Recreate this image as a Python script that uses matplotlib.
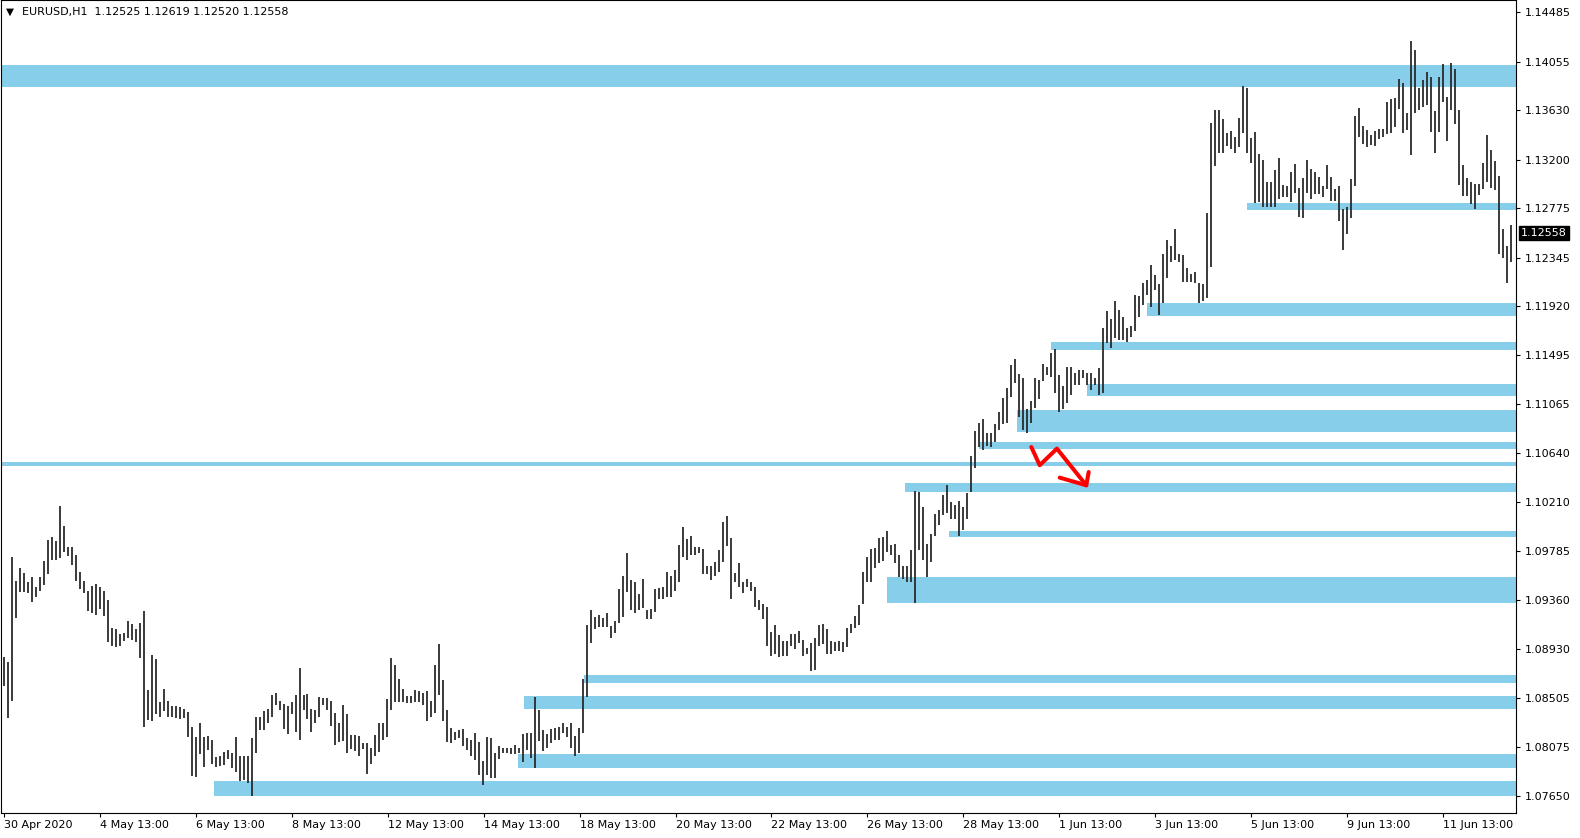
import matplotlib
matplotlib.use("Agg")
import matplotlib.pyplot as plt
import numpy as np

# EURUSD H1, one entry per two hourly bars (high / low)
symbol = "EURUSD,H1"
last_ohlc = ["1.12525", "1.12619", "1.12520", "1.12558"]
last_price = 1.12558

highs = [
    1.0886, 1.0882, 1.0973, 1.0952, 1.0964, 1.0959, 1.0951, 1.0956, 1.0947, 1.0956,
    1.0970, 1.0988, 1.0991, 1.0987, 1.1018, 1.1000, 1.0982, 1.0982, 1.0975, 1.0960,
    1.0952, 1.0944, 1.0948, 1.0950, 1.0947, 1.0944, 1.0936, 1.0911, 1.0910, 1.0906,
    1.0907, 1.0917, 1.0915, 1.0910, 1.0916, 1.0926, 1.0857, 1.0888, 1.0884, 1.0847,
    1.0858, 1.0848, 1.0843, 1.0843, 1.0842, 1.0841, 1.0838, 1.0825, 1.0816, 1.0828,
    1.0816, 1.0817, 1.0814, 1.0799, 1.0800, 1.0803, 1.0805, 1.0802, 1.0816, 1.0800,
    1.0800, 1.0800, 1.0815, 1.0834, 1.0834, 1.0839, 1.0841, 1.0853, 1.0855, 1.0848,
    1.0845, 1.0843, 1.0847, 1.0853, 1.0876, 1.0853, 1.0854, 1.0841, 1.0840, 1.0851,
    1.0850, 1.0850, 1.0848, 1.0837, 1.0828, 1.0844, 1.0836, 1.0818, 1.0818, 1.0817,
    1.0811, 1.0811, 1.0807, 1.0818, 1.0828, 1.0828, 1.0849, 1.0885, 1.0879, 1.0867,
    1.0858, 1.0852, 1.0852, 1.0857, 1.0856, 1.0855, 1.0856, 1.0848, 1.0879, 1.0897,
    1.0866, 1.0840, 1.0824, 1.0821, 1.0822, 1.0823, 1.0815, 1.0814, 1.0820, 1.0812,
    1.0795, 1.0816, 1.0815, 1.0802, 1.0808, 1.0807, 1.0807, 1.0807, 1.0809, 1.0807,
    1.0819, 1.0820, 1.0820, 1.0851, 1.0840, 1.0822, 1.0819, 1.0823, 1.0824, 1.0825,
    1.0828, 1.0825, 1.0828, 1.0817, 1.0824, 1.0867, 1.0914, 1.0927, 1.0921, 1.0923,
    1.0920, 1.0924, 1.0913, 1.0917, 1.0945, 1.0957, 1.0977, 1.0953, 1.0951, 1.0941,
    1.0954, 1.0927, 1.0928, 1.0945, 1.0946, 1.0947, 1.0960, 1.0957, 1.0962, 1.0984,
    1.0999, 1.0989, 1.0992, 1.0982, 1.0982, 1.0980, 1.0965, 1.0965, 1.0969, 1.0979,
    1.1004, 1.1009, 1.0990, 1.0959, 1.0968, 1.0951, 1.0954, 1.0951, 1.0947, 1.0936,
    1.0932, 1.0930, 1.0908, 1.0914, 1.0905, 1.0900, 1.0900, 1.0906, 1.0906, 1.0909,
    1.0901, 1.0894, 1.0898, 1.0903, 1.0914, 1.0915, 1.0910, 1.0900, 1.0899, 1.0900,
    1.0899, 1.0911, 1.0915, 1.0922, 1.0931, 1.0960, 1.0973, 1.0980, 1.0981, 1.0990,
    1.0991, 1.0996, 1.0984, 1.0985, 1.0975, 1.0965, 1.0965, 1.0979, 1.1031, 1.1030,
    1.1017, 1.0985, 1.0993, 1.1011, 1.1014, 1.1027, 1.1036, 1.1021, 1.1019, 1.1022,
    1.1017, 1.1029, 1.1061, 1.1083, 1.1090, 1.1094, 1.1081, 1.1081, 1.1089, 1.1100,
    1.1112, 1.1121, 1.1141, 1.1146, 1.1133, 1.1129, 1.1102, 1.1109, 1.1129, 1.1128,
    1.1142, 1.1139, 1.1151, 1.1155, 1.1132, 1.1122, 1.1139, 1.1139, 1.1134, 1.1136,
    1.1136, 1.1134, 1.1134, 1.1129, 1.1138, 1.1173, 1.1188, 1.1181, 1.1197, 1.1189,
    1.1183, 1.1173, 1.1175, 1.1202, 1.1201, 1.1212, 1.1215, 1.1228, 1.1219, 1.1211,
    1.1238, 1.1250, 1.1245, 1.1259, 1.1238, 1.1237, 1.1225, 1.1220, 1.1222, 1.1212,
    1.1211, 1.1273, 1.1352, 1.1363, 1.1363, 1.1355, 1.1343, 1.1345, 1.1340, 1.1356,
    1.1384, 1.1382, 1.1339, 1.1344, 1.1325, 1.1320, 1.1300, 1.1300, 1.1311, 1.1321,
    1.1298, 1.1297, 1.1309, 1.1316, 1.1295, 1.1304, 1.1320, 1.1312, 1.1309, 1.1305,
    1.1297, 1.1315, 1.1305, 1.1294, 1.1297, 1.1277, 1.1279, 1.1303, 1.1358, 1.1365,
    1.1349, 1.1346, 1.1341, 1.1345, 1.1347, 1.1347, 1.1370, 1.1373, 1.1374, 1.1390,
    1.1387, 1.1361, 1.1423, 1.1416, 1.1382, 1.1389, 1.1396, 1.1392, 1.1362, 1.1392,
    1.1403, 1.1375, 1.1404, 1.1399, 1.1363, 1.1315, 1.1304, 1.1300, 1.1299, 1.1299,
    1.1317, 1.1341, 1.1328, 1.1319, 1.1306, 1.1259, 1.1245, 1.1263,
]

lows = [
    1.0861, 1.0833, 1.0848, 1.0920, 1.0943, 1.0943, 1.0942, 1.0934, 1.0938, 1.0944,
    1.0949, 1.0958, 1.0971, 1.0971, 1.0972, 1.0978, 1.0974, 1.0966, 1.0952, 1.0945,
    1.0942, 1.0926, 1.0924, 1.0923, 1.0928, 1.0922, 1.0899, 1.0896, 1.0895, 1.0896,
    1.0900, 1.0903, 1.0901, 1.0899, 1.0885, 1.0825, 1.0831, 1.0830, 1.0836, 1.0834,
    1.0839, 1.0834, 1.0834, 1.0833, 1.0832, 1.0833, 1.0816, 1.0782, 1.0781, 1.0801,
    1.0790, 1.0805, 1.0793, 1.0790, 1.0791, 1.0792, 1.0797, 1.0789, 1.0786, 1.0778,
    1.0779, 1.0776, 1.0765, 1.0802, 1.0822, 1.0822, 1.0828, 1.0834, 1.0844, 1.0840,
    1.0823, 1.0819, 1.0836, 1.0821, 1.0814, 1.0840, 1.0832, 1.0821, 1.0828, 1.0834,
    1.0844, 1.0840, 1.0826, 1.0809, 1.0812, 1.0813, 1.0802, 1.0806, 1.0804, 1.0800,
    1.0806, 1.0784, 1.0793, 1.0800, 1.0803, 1.0814, 1.0816, 1.0840, 1.0847, 1.0847,
    1.0847, 1.0846, 1.0846, 1.0847, 1.0847, 1.0844, 1.0830, 1.0834, 1.0837, 1.0853,
    1.0830, 1.0812, 1.0811, 1.0814, 1.0815, 1.0808, 1.0805, 1.0800, 1.0796, 1.0783,
    1.0774, 1.0783, 1.0780, 1.0780, 1.0797, 1.0802, 1.0802, 1.0801, 1.0801, 1.0802,
    1.0794, 1.0805, 1.0798, 1.0789, 1.0813, 1.0804, 1.0807, 1.0811, 1.0814, 1.0814,
    1.0820, 1.0816, 1.0807, 1.0800, 1.0802, 1.0820, 1.0851, 1.0898, 1.0910, 1.0912,
    1.0912, 1.0912, 1.0903, 1.0907, 1.0916, 1.0921, 1.0943, 1.0927, 1.0924, 1.0927,
    1.0929, 1.0919, 1.0919, 1.0925, 1.0937, 1.0937, 1.0938, 1.0938, 1.0944, 1.0951,
    1.0973, 1.0971, 1.0975, 1.0975, 1.0977, 1.0958, 1.0958, 1.0953, 1.0957, 1.0960,
    1.0969, 1.0983, 1.0937, 1.0951, 1.0947, 1.0942, 1.0947, 1.0944, 1.0930, 1.0927,
    1.0919, 1.0896, 1.0887, 1.0889, 1.0886, 1.0887, 1.0887, 1.0896, 1.0893, 1.0898,
    1.0887, 1.0889, 1.0874, 1.0875, 1.0896, 1.0897, 1.0889, 1.0889, 1.0891, 1.0891,
    1.0890, 1.0895, 1.0907, 1.0911, 1.0914, 1.0932, 1.0951, 1.0951, 1.0964, 1.0968,
    1.0970, 1.0978, 1.0975, 1.0968, 1.0956, 1.0954, 1.0951, 1.0951, 1.0933, 1.0979,
    1.0971, 1.0956, 1.0969, 1.0992, 1.1001, 1.1010, 1.1012, 1.1006, 1.1006, 1.0992,
    1.0997, 1.1006, 1.1030, 1.1051, 1.1069, 1.1067, 1.1070, 1.1069, 1.1074, 1.1084,
    1.1089, 1.1090, 1.1113, 1.1125, 1.1095, 1.1084, 1.1081, 1.1090, 1.1103, 1.1111,
    1.1127, 1.1132, 1.1130, 1.1116, 1.1100, 1.1102, 1.1108, 1.1115, 1.1123, 1.1123,
    1.1129, 1.1123, 1.1119, 1.1123, 1.1115, 1.1116, 1.1160, 1.1156, 1.1164, 1.1163,
    1.1163, 1.1161, 1.1165, 1.1170, 1.1183, 1.1193, 1.1202, 1.1191, 1.1206, 1.1184,
    1.1195, 1.1217, 1.1231, 1.1232, 1.1231, 1.1213, 1.1213, 1.1213, 1.1212, 1.1195,
    1.1197, 1.1199, 1.1226, 1.1314, 1.1326, 1.1326, 1.1332, 1.1329, 1.1326, 1.1331,
    1.1343, 1.1326, 1.1317, 1.1282, 1.1283, 1.1279, 1.1279, 1.1279, 1.1279, 1.1286,
    1.1287, 1.1287, 1.1283, 1.1291, 1.1270, 1.1269, 1.1291, 1.1286, 1.1290, 1.1290,
    1.1287, 1.1294, 1.1284, 1.1284, 1.1266, 1.1241, 1.1255, 1.1269, 1.1297, 1.1340,
    1.1334, 1.1331, 1.1333, 1.1332, 1.1338, 1.1340, 1.1342, 1.1343, 1.1348, 1.1364,
    1.1343, 1.1346, 1.1324, 1.1361, 1.1363, 1.1366, 1.1368, 1.1344, 1.1326, 1.1344,
    1.1370, 1.1336, 1.1363, 1.1351, 1.1298, 1.1288, 1.1288, 1.1281, 1.1277, 1.1289,
    1.1294, 1.1300, 1.1295, 1.1293, 1.1238, 1.1234, 1.1212, 1.1231,
]

date_labels = ["30 Apr 2020", "4 May 13:00", "6 May 13:00", "8 May 13:00",
               "12 May 13:00", "14 May 13:00", "18 May 13:00", "20 May 13:00",
               "22 May 13:00", "26 May 13:00", "28 May 13:00", "1 Jun 13:00",
               "3 Jun 13:00", "5 Jun 13:00", "9 Jun 13:00", "11 Jun 13:00"]

price_ticks = [1.14485, 1.14055, 1.13630, 1.13200, 1.12775, 1.12345, 1.11920,
               1.11495, 1.11065, 1.10640, 1.10210, 1.09785, 1.09360, 1.08930,
               1.08505, 1.08075, 1.07650]

# support / resistance zones: top, bottom, first hour on the chart
zone_tops = [1.14025, 1.10561, 1.12820, 1.11949, 1.11606, 1.11240, 1.11013,
             1.10733, 1.10375, 1.09956, 1.09555, 1.08699, 1.08516, 1.08018, 1.07774]
zone_bottoms = [1.13835, 1.10526, 1.12759, 1.11833, 1.11536, 1.11135, 1.10823,
                1.10675, 1.10300, 1.09907, 1.09330, 1.08632, 1.08405, 1.07890, 1.07651]
zone_starts = [0, 0, 623.3, 573.3, 525.5, 543.5, 508.5,
               489.5, 452.5, 474.5, 443.5, 291.5, 261.5, 258.5, 106.5]

# hand drawn red arrow
arrow_x = [515.5, 519.7, 528.3, 543.0]
arrow_y = [1.10692, 1.10533, 1.10678, 1.10358]
head_x = [529.7, 543.0, 544.2]
head_y = [1.10425, 1.10358, 1.10474]

x_max = 758
y_min, y_max = 1.07499, 1.14592

fig = plt.figure(figsize=(15.8, 8.38), dpi=100)
ax = fig.add_axes([1 / 1580, 25 / 838, 1515 / 1580, 813 / 838])

for top, bottom, start in zip(zone_tops, zone_bottoms, zone_starts):
    ax.fill_between([start, x_max], bottom, top, color="#87CEEB", lw=0, zorder=1)

pos = 1.35 + 2 * np.arange(len(highs))
ax.vlines(pos, lows, highs, color="#2b2b2b", lw=1.3, zorder=3)

ax.plot(arrow_x, arrow_y, color="red", lw=2.9, solid_capstyle="round",
        solid_joinstyle="round", zorder=5)
ax.plot(head_x, head_y, color="red", lw=2.9, solid_capstyle="round",
        solid_joinstyle="round", zorder=5)

ax.set_xlim(0, x_max)
ax.set_ylim(y_min, y_max)

ax.yaxis.tick_right()
ax.set_yticks(price_ticks)
ax.set_yticklabels([f"{p:.5f}" for p in price_ticks])
ax.tick_params(axis="y", length=3, width=0.8, pad=3, labelsize=8, colors="black")

tick_pos = 1.5 + 48 * np.arange(len(date_labels))
ax.set_xticks(tick_pos)
ax.set_xticklabels(date_labels, ha="left")
ax.tick_params(axis="x", length=3, width=0.8, pad=2, labelsize=8)

for s in ax.spines.values():
    s.set_color("black")
    s.set_linewidth(0.8)

ax.annotate(f"{last_price:.5f}", xy=(1, last_price),
            xycoords=("axes fraction", "data"), xytext=(3.5, 0),
            textcoords="offset points", ha="left", va="center", fontsize=8,
            color="white", annotation_clip=False,
            bbox=dict(boxstyle="square,pad=0.2", fc="black", ec="black"))

ax.text(0.0032, 0.9857, "\u25bc", transform=ax.transAxes, fontsize=7.5,
        va="center", ha="left")
ax.text(0.0139, 0.9852, symbol + "  " + " ".join(last_ohlc),
        transform=ax.transAxes, fontsize=8, va="center", ha="left")

fig.savefig("out.png", dpi=100, facecolor="white")
